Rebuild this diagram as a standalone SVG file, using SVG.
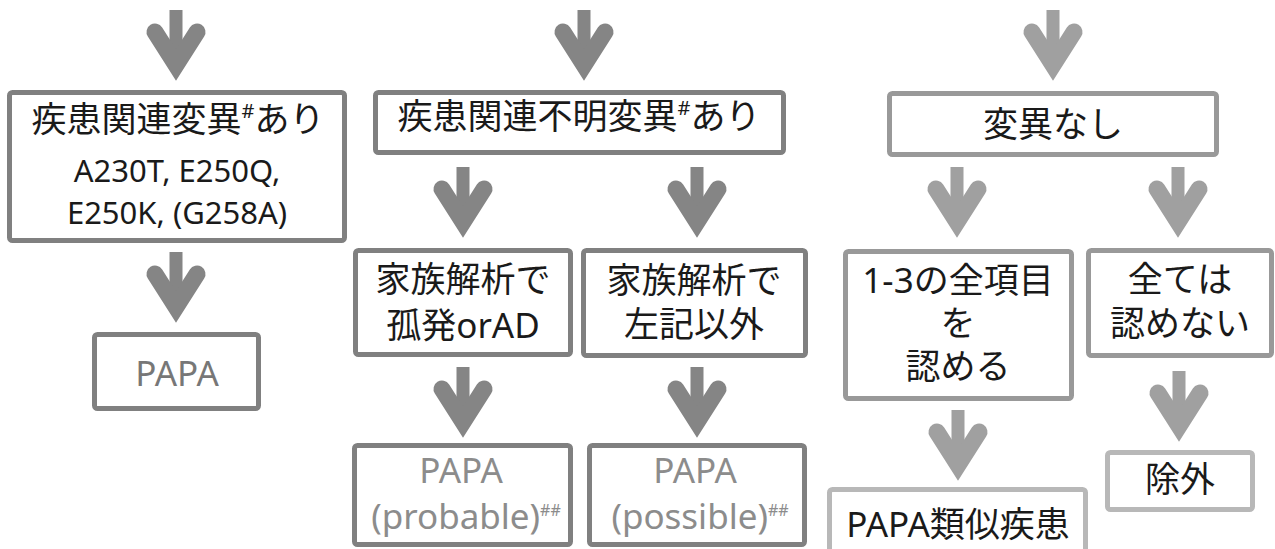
<svg xmlns="http://www.w3.org/2000/svg" xmlns:xlink="http://www.w3.org/1999/xlink" width="1275" height="549" viewBox="0 0 1275 549">
<style>
  .bx{fill:#ffffff;stroke-width:5}
  .d{stroke:#808080}
  .m{stroke:#999999}
  .l{stroke:#b8b8b8}
  .t{font-family:"Noto Sans","Noto Sans CJK JP",sans-serif;font-size:35px;fill:#1a1a1a;text-anchor:middle}
  .lat{font-size:31px}
  .g1{fill:#777777}
  .g2{fill:#8c8c8c}
  .ad{fill:#858585;stroke:#858585}
  .al{fill:#a0a0a0;stroke:#a0a0a0}
</style>
<defs>
  <g id="arw">
    <rect x="-6.5" y="0" width="13" height="45" stroke="none"/>
    <polyline points="-21,22 0,55 21,22" fill="none" stroke-width="17" stroke-linecap="round" stroke-linejoin="miter" stroke-miterlimit="10"/>
  </g>
</defs>
<rect width="1275" height="549" fill="#ffffff"/>

<g id="connectors">
  <use xlink:href="#arw" href="#arw" class="ad" transform="translate(176,10)"/>
  <use xlink:href="#arw" href="#arw" class="ad" transform="translate(584,10)"/>
  <use xlink:href="#arw" href="#arw" class="al" transform="translate(1053,10)"/>
  <use xlink:href="#arw" href="#arw" class="ad" transform="translate(176,252)"/>
  <use xlink:href="#arw" href="#arw" class="ad" transform="translate(463,167)"/>
  <use xlink:href="#arw" href="#arw" class="ad" transform="translate(697,167)"/>
  <use xlink:href="#arw" href="#arw" class="al" transform="translate(957,167)"/>
  <use xlink:href="#arw" href="#arw" class="al" transform="translate(1178,167)"/>
  <use xlink:href="#arw" href="#arw" class="ad" transform="translate(463,367)"/>
  <use xlink:href="#arw" href="#arw" class="ad" transform="translate(697,367)"/>
  <use xlink:href="#arw" href="#arw" class="al" transform="translate(958,410)"/>
  <use xlink:href="#arw" href="#arw" class="al" transform="translate(1179,371)"/>
</g>

<g id="n-known">
  <rect class="bx d" x="9.5" y="92.5" width="335" height="148" rx="3"/>
  <text class="t" x="178" y="132">疾患関連変異<tspan font-size="20" dy="-14">#</tspan><tspan dy="14">あり</tspan></text>
  <text class="t lat" x="177" y="182">A230T, E250Q,</text>
  <text class="t lat" x="177" y="224">E250K, (G258A)</text>
</g>

<g id="n-papa">
  <rect class="bx d" x="94.5" y="334.5" width="164" height="74" rx="3"/>
  <text class="t g1" x="177" y="386" font-size="39">PAPA</text>
</g>

<g id="n-unknown">
  <rect class="bx d" x="375.5" y="92.5" width="408" height="60" rx="3"/>
  <text class="t" x="579" y="129">疾患関連不明変異<tspan font-size="20" dy="-14">#</tspan><tspan dy="14">あり</tspan></text>
</g>

<g id="n-none">
  <rect class="bx m" x="889.5" y="93.5" width="327" height="61" rx="3"/>
  <text class="t" x="1053" y="137">変異なし</text>
</g>

<g id="n-fam1">
  <rect class="bx d" x="355.5" y="250.5" width="215" height="104" rx="3"/>
  <text class="t" x="463" y="292">家族解析で</text>
  <text class="t" x="463" y="338">孤発orAD</text>
</g>

<g id="n-fam2">
  <rect class="bx d" x="583.5" y="250.5" width="222" height="105" rx="3"/>
  <text class="t" x="694" y="293">家族解析で</text>
  <text class="t" x="694" y="337">左記以外</text>
</g>

<g id="n-probable">
  <rect class="bx d" x="354.5" y="445.5" width="216" height="99" rx="3"/>
  <text class="t g2" x="461" y="483" font-size="29">PAPA</text>
  <text class="t g2" x="466" y="529" font-size="28">(probable)<tspan font-size="16" dy="-13">##</tspan></text>
</g>

<g id="n-possible">
  <rect class="bx d" x="589.5" y="445.5" width="215" height="99" rx="3"/>
  <text class="t g2" x="695" y="483" font-size="29">PAPA</text>
  <text class="t g2" x="700" y="529" font-size="28">(possible)<tspan font-size="16" dy="-13">##</tspan></text>
</g>

<g id="n-all">
  <rect class="bx m" x="845.5" y="251.5" width="226" height="147" rx="3"/>
  <text class="t" x="958" y="293">1-3の全項目</text>
  <text class="t" x="958" y="336">を</text>
  <text class="t" x="958" y="379">認める</text>
</g>

<g id="n-notall">
  <rect class="bx m" x="1088.5" y="250.5" width="183" height="105" rx="3"/>
  <text class="t" x="1180" y="292">全ては</text>
  <text class="t" x="1180" y="336">認めない</text>
</g>

<g id="n-similar">
  <rect class="bx l" x="829.5" y="489.5" width="256" height="64" rx="3"/>
  <text class="t" x="958" y="537">PAPA類似疾患</text>
</g>

<g id="n-exclude">
  <rect class="bx l" x="1107.5" y="452.5" width="145" height="57" rx="3"/>
  <text class="t" x="1180" y="492">除外</text>
</g>
</svg>
